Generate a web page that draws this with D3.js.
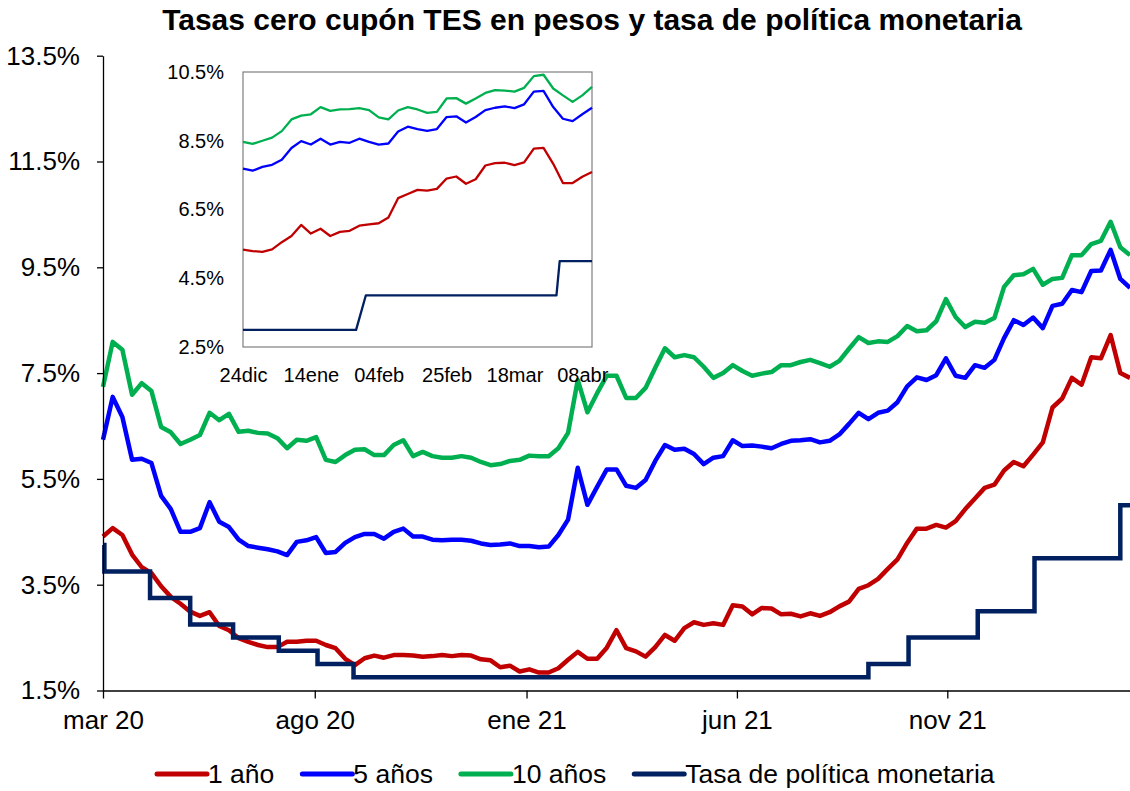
<!DOCTYPE html>
<html>
<head>
<meta charset="utf-8">
<script src="https://cdn.jsdelivr.net/npm/d3@7/dist/d3.min.js"></script>
<style>
  body { margin: 0; background: #fff; }
  svg { font-family: "Liberation Sans", Arial, sans-serif; }
</style>
</head>
<body>
<script>
// weekly readings, first one on weekStart
var weekStart = "2020-03-24";

var rate1y = [
  4.41, 4.57, 4.44, 4.07, 3.83, 3.72, 3.47, 3.27, 3.14, 2.99,
  2.91, 2.98, 2.72, 2.64, 2.49, 2.42, 2.36, 2.32, 2.32, 2.42,
  2.42, 2.44, 2.44, 2.36, 2.30, 2.10, 1.98, 2.11, 2.16, 2.12,
  2.17, 2.17, 2.16, 2.14, 2.15, 2.17, 2.15, 2.17, 2.16, 2.09,
  2.07, 1.94, 1.97, 1.86, 1.90, 1.84, 1.84, 1.92, 2.08, 2.23,
  2.10, 2.10, 2.31, 2.64, 2.30, 2.24, 2.14, 2.32, 2.55, 2.44,
  2.68, 2.79, 2.74, 2.77, 2.74, 3.11, 3.09, 2.94, 3.06, 3.05,
  2.94, 2.95, 2.90, 2.96, 2.91, 2.98, 3.09, 3.18, 3.42, 3.49,
  3.61, 3.80, 3.98, 4.29, 4.56, 4.56, 4.63, 4.58, 4.70, 4.93,
  5.13, 5.33, 5.39, 5.66, 5.82, 5.74, 5.96, 6.19, 6.85, 7.02,
  7.41, 7.28, 7.80, 7.78, 8.22, 7.50, 7.41
];

var rate5y = [
  6.24, 7.05, 6.67, 5.86, 5.88, 5.80, 5.18, 4.93, 4.50, 4.50,
  4.57, 5.06, 4.69, 4.59, 4.35, 4.23, 4.20, 4.17, 4.13, 4.06,
  4.31, 4.34, 4.40, 4.10, 4.12, 4.29, 4.40, 4.46, 4.46, 4.37,
  4.50, 4.56, 4.41, 4.41, 4.35, 4.34, 4.35, 4.35, 4.33, 4.28,
  4.25, 4.26, 4.28, 4.23, 4.23, 4.21, 4.22, 4.44, 4.73, 5.71,
  5.01, 5.35, 5.68, 5.68, 5.37, 5.33, 5.48, 5.84, 6.14, 6.05,
  6.07, 5.97, 5.78, 5.90, 5.93, 6.23, 6.12, 6.13, 6.11, 6.08,
  6.16, 6.22, 6.23, 6.25, 6.19, 6.22, 6.34, 6.54, 6.75, 6.63,
  6.75, 6.79, 6.95, 7.25, 7.42, 7.37, 7.46, 7.78, 7.45, 7.41,
  7.65, 7.60, 7.75, 8.16, 8.50, 8.41, 8.55, 8.35, 8.77, 8.81,
  9.07, 9.03, 9.43, 9.44, 9.83, 9.28, 9.11
];

var rate10y = [
  7.24, 8.09, 7.94, 7.09, 7.31, 7.16, 6.48, 6.38, 6.16, 6.24,
  6.33, 6.75, 6.61, 6.73, 6.39, 6.41, 6.37, 6.36, 6.27, 6.08,
  6.24, 6.22, 6.29, 5.86, 5.82, 5.95, 6.05, 6.06, 5.95, 5.95,
  6.14, 6.23, 5.93, 6.01, 5.93, 5.90, 5.90, 5.93, 5.90, 5.82,
  5.76, 5.78, 5.84, 5.86, 5.94, 5.93, 5.93, 6.08, 6.37, 7.37,
  6.76, 7.12, 7.45, 7.45, 7.03, 7.03, 7.22, 7.60, 7.97, 7.80,
  7.84, 7.80, 7.62, 7.41, 7.50, 7.65, 7.54, 7.45, 7.49, 7.52,
  7.65, 7.65, 7.71, 7.75, 7.69, 7.62, 7.73, 7.96, 8.18, 8.07,
  8.10, 8.09, 8.20, 8.39, 8.29, 8.31, 8.48, 8.90, 8.56, 8.37,
  8.47, 8.45, 8.54, 9.13, 9.35, 9.37, 9.47, 9.17, 9.28, 9.30,
  9.73, 9.73, 9.94, 10.00, 10.36, 9.88, 9.73
];

var policyDates = [
  "2020-03-24", "2020-03-25", "2020-04-27", "2020-05-26", "2020-06-26",
  "2020-07-29", "2020-08-26", "2020-09-21", "2021-09-28", "2021-10-27",
  "2021-12-16", "2022-01-26", "2022-03-29", "2022-04-05"
];
var policyRates = [4.25, 3.75, 3.25, 2.75, 2.50, 2.25, 2.00, 1.75, 2.00, 2.50, 3.00, 4.00, 5.00, 5.00];

var xTickDates = ["2020-03-24", "2020-08-24", "2021-01-24", "2021-06-25", "2021-11-24"];
var yTicks = [1.5, 3.5, 5.5, 7.5, 9.5, 11.5, 13.5];

// inset: readings every 3 days from insetStart
var insetStart = "2021-12-24";
var insetEnd = "2022-04-11";

var inset1y = [
  5.33, 5.29, 5.27, 5.34, 5.55, 5.73, 6.05, 5.80, 5.94, 5.73,
  5.85, 5.88, 6.03, 6.07, 6.10, 6.27, 6.83, 6.95, 7.07, 7.05,
  7.10, 7.40, 7.46, 7.25, 7.38, 7.78, 7.85, 7.86, 7.79, 7.87,
  8.27, 8.29, 7.83, 7.27, 7.27, 7.45, 7.59
];
var inset5y = [
  7.69, 7.63, 7.74, 7.80, 7.95, 8.29, 8.49, 8.39, 8.56, 8.39,
  8.47, 8.44, 8.56, 8.47, 8.39, 8.42, 8.77, 8.91, 8.84, 8.79,
  8.84, 9.19, 9.21, 9.03, 9.19, 9.39, 9.46, 9.50, 9.45, 9.56,
  9.93, 9.95, 9.48, 9.14, 9.07, 9.27, 9.46
];
var inset10y = [
  8.47, 8.41, 8.50, 8.59, 8.78, 9.12, 9.23, 9.27, 9.48, 9.37,
  9.41, 9.42, 9.45, 9.39, 9.18, 9.12, 9.38, 9.48, 9.41, 9.31,
  9.34, 9.73, 9.74, 9.58, 9.73, 9.89, 9.97, 9.96, 9.93, 10.04,
  10.38, 10.42, 10.02, 9.82, 9.63, 9.82, 10.07
];
var insetPolicyDates = ["2021-12-24", "2022-01-28", "2022-01-31", "2022-03-31", "2022-04-01", "2022-04-11"];
var insetPolicyRates = [3.0, 3.0, 4.0, 4.0, 5.0, 5.0];

var insetTickDates = ["2021-12-24", "2022-01-14", "2022-02-04", "2022-02-25", "2022-03-18", "2022-04-08"];
var insetYTicks = [2.5, 4.5, 6.5, 8.5, 10.5];

var seriesNames = ["1 año", "5 años", "10 años", "Tasa de política monetaria"];
var seriesColors = ["#C00000", "#0000FF", "#00B050", "#002060"];

var title = "Tasas cero cupón TES en pesos y tasa de política monetaria";

var parseDate = d3.timeParse("%Y-%m-%d");
var es = d3.timeFormatLocale({
  dateTime: "%A, %e de %B de %Y, %X", date: "%d/%m/%Y", time: "%H:%M:%S",
  periods: ["AM", "PM"],
  days: ["domingo", "lunes", "martes", "miércoles", "jueves", "viernes", "sábado"],
  shortDays: ["dom", "lun", "mar", "mié", "jue", "vie", "sáb"],
  months: ["enero", "febrero", "marzo", "abril", "mayo", "junio", "julio", "agosto", "septiembre", "octubre", "noviembre", "diciembre"],
  shortMonths: ["ene", "feb", "mar", "abr", "may", "jun", "jul", "ago", "sep", "oct", "nov", "dic"]
});

var width = 1130, height = 791;
var margin = { top: 55.7, right: 0, bottom: 100.5, left: 103 };

var svg = d3.select("body").append("svg")
  .attr("width", width)
  .attr("height", height);

// weekly series -> points
var start = parseDate(weekStart);
function weekly(values) {
  return values.map(function (v, i) { return { date: d3.timeDay.offset(start, 7 * i), value: v }; });
}
function every3(values) {
  var s = parseDate(insetStart);
  return values.map(function (v, i) { return { date: d3.timeDay.offset(s, 3 * i), value: v }; });
}
function pairs(dates, values) {
  return dates.map(function (d, i) { return { date: parseDate(d), value: values[i] }; });
}

var mainSeries = [weekly(rate1y), weekly(rate5y), weekly(rate10y)];
var policy = pairs(policyDates, policyRates);

var x = d3.scaleTime()
  .domain([start, d3.timeDay.offset(start, 7 * (rate1y.length - 1))])
  .range([margin.left, width - margin.right]);

var y = d3.scaleLinear()
  .domain([1.5, 13.5])
  .range([height - margin.bottom, margin.top]);

// title
svg.append("text")
  .attr("x", 592)
  .attr("y", 30)
  .attr("text-anchor", "middle")
  .attr("font-size", 30)
  .attr("font-weight", "bold")
  .text(title);

// main lines
var line = d3.line()
  .x(function (d) { return x(d.date); })
  .y(function (d) { return y(d.value); });

svg.selectAll(".rate")
  .data(mainSeries)
  .enter().append("path")
  .attr("class", "rate")
  .attr("fill", "none")
  .attr("stroke", function (d, i) { return seriesColors[i]; })
  .attr("stroke-width", 4.5)
  .attr("stroke-linejoin", "round")
  .attr("d", line);

svg.append("path")
  .datum(policy)
  .attr("fill", "none")
  .attr("stroke", seriesColors[3])
  .attr("stroke-width", 4.5)
  .attr("d", line.curve(d3.curveStepAfter));

// axes
var yAxis = svg.append("g")
  .attr("transform", "translate(" + margin.left + ",0)")
  .call(d3.axisLeft(y)
    .tickValues(yTicks)
    .tickSize(6)
    .tickSizeOuter(0)
    .tickPadding(17)
    .tickFormat(function (d) { return d.toFixed(1) + "%"; }));

var xAxis = svg.append("g")
  .attr("transform", "translate(0," + (height - margin.bottom) + ")")
  .call(d3.axisBottom(x)
    .tickValues(xTickDates.map(parseDate))
    .tickSize(8)
    .tickSizeOuter(0)
    .tickPadding(12)
    .tickFormat(es.format("%b %y")));

[yAxis, xAxis].forEach(function (g) {
  g.attr("font-family", null).attr("font-size", 26);
  g.selectAll("text").attr("fill", "#000");
  g.selectAll("line, path").attr("stroke", "#000").attr("stroke-width", 1.3);
});

// inset
var ix = d3.scaleTime()
  .domain([parseDate(insetStart), parseDate(insetEnd)])
  .range([243, 592]);
var iy = d3.scaleLinear()
  .domain([2.5, 10.5])
  .range([347, 72]);

var inset = svg.append("g").attr("class", "inset");

inset.append("rect")
  .attr("x", ix.range()[0])
  .attr("y", iy.range()[1])
  .attr("width", ix.range()[1] - ix.range()[0])
  .attr("height", iy.range()[0] - iy.range()[1])
  .attr("fill", "#fff")
  .attr("stroke", "#7f7f7f")
  .attr("stroke-width", 1.2);

var iline = d3.line()
  .x(function (d) { return ix(d.date); })
  .y(function (d) { return iy(d.value); });

var insetSeries = [every3(inset1y), every3(inset5y), every3(inset10y), pairs(insetPolicyDates, insetPolicyRates)];

inset.selectAll(".iline")
  .data(insetSeries)
  .enter().append("path")
  .attr("class", "iline")
  .attr("fill", "none")
  .attr("stroke", function (d, i) { return seriesColors[i]; })
  .attr("stroke-width", 2.3)
  .attr("stroke-linejoin", "round")
  .attr("d", iline);

var iyAxis = inset.append("g")
  .attr("transform", "translate(243,0)")
  .call(d3.axisLeft(iy)
    .tickValues(insetYTicks)
    .tickSize(0)
    .tickPadding(19)
    .tickFormat(function (d) { return d.toFixed(1) + "%"; }));

var ixAxis = inset.append("g")
  .attr("transform", "translate(0,347)")
  .call(d3.axisBottom(ix)
    .tickValues(insetTickDates.map(parseDate))
    .tickSize(0)
    .tickPadding(21)
    .tickFormat(es.format("%d%b")));

[iyAxis, ixAxis].forEach(function (g) {
  g.attr("font-family", null).attr("font-size", 20);
  g.select(".domain").remove();
  g.selectAll("text").attr("fill", "#000");
});

// legend
var legend = svg.append("g").attr("class", "legend");
var lx = 157, ly = 774;
seriesNames.forEach(function (name, i) {
  legend.append("line")
    .attr("x1", lx).attr("x2", lx + 50)
    .attr("y1", ly).attr("y2", ly)
    .attr("stroke", seriesColors[i])
    .attr("stroke-width", 5)
    .attr("stroke-linecap", "round");
  var t = legend.append("text")
    .attr("x", lx + 51)
    .attr("y", ly + 9)
    .attr("font-size", 26.5)
    .text(name);
  lx += 51 + t.node().getComputedTextLength() + 28;
});
</script>
</body>
</html>
